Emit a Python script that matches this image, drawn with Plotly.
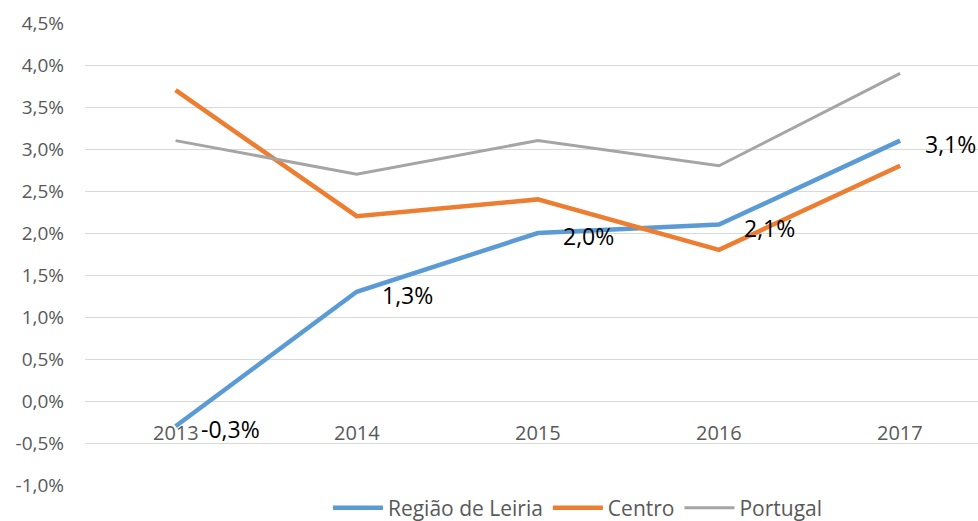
import plotly.graph_objects as go

years = ["2013", "2014", "2015", "2016", "2017"]
leiria = [-0.3, 1.3, 2.0, 2.1, 3.1]
centro = [3.7, 2.2, 2.4, 1.8, 2.8]
portugal = [3.1, 2.7, 3.1, 2.8, 3.9]
yticks = [-1.0, -0.5, 0.0, 0.5, 1.0, 1.5, 2.0, 2.5, 3.0, 3.5, 4.0, 4.5]

def pct(v):
    return f"{v:.1f}%".replace(".", ",")

FONT = "Open Sans"
xs = list(range(len(years)))

fig = go.Figure()
fig.add_trace(go.Scatter(x=xs, y=leiria, mode="lines", name="Região de Leiria",
                         line=dict(color="#5B9BD5", width=4.5)))
fig.add_trace(go.Scatter(x=xs, y=centro, mode="lines", name="Centro",
                         line=dict(color="#ED7D31", width=4.5)))
fig.add_trace(go.Scatter(x=xs, y=portugal, mode="lines", name="Portugal",
                         line=dict(color="#A5A5A5", width=3)))

annotations = []
for i, y in enumerate(years):
    annotations.append(dict(x=i, y=0, xref="x", yref="y", text=y, showarrow=False,
                            xanchor="center", yanchor="middle", yshift=-31,
                            font=dict(family=FONT, size=20, color="#595959")))
for i, v in enumerate(leiria):
    annotations.append(dict(x=i, y=v, xref="x", yref="y", text=pct(v), showarrow=False,
                            xanchor="left", yanchor="middle", xshift=23, yshift=-3,
                            font=dict(family=FONT, size=23, color="#000000")))

fig.update_layout(
    width=978, height=521,
    margin=dict(l=85, r=0, t=23, b=36, autoexpand=False),
    paper_bgcolor="white", plot_bgcolor="white",
    font=dict(family=FONT, color="#595959", size=19),
    xaxis=dict(range=[-0.5, 4.43], showticklabels=False, showgrid=False,
               zeroline=False, showline=False, ticks=""),
    yaxis=dict(range=[-1.0, 4.5], tickvals=yticks, ticktext=[pct(v) for v in yticks],
               showgrid=True, gridcolor="#D9D9D9", gridwidth=1, zeroline=False,
               showline=False, ticks="", ticklabelstandoff=20,
               tickfont=dict(family=FONT, size=19, color="#595959")),
    legend=dict(orientation="h", x=0.552, xanchor="center", y=-0.05, yanchor="middle",
                font=dict(family=FONT, size=21, color="#595959"),
                itemwidth=50, tracegroupgap=0),
    annotations=annotations,
    showlegend=True,
)

fig.write_html("out.html", config={"displayModeBar": False},
               post_script="document.body.style.margin='0';document.body.style.overflow='hidden';")
